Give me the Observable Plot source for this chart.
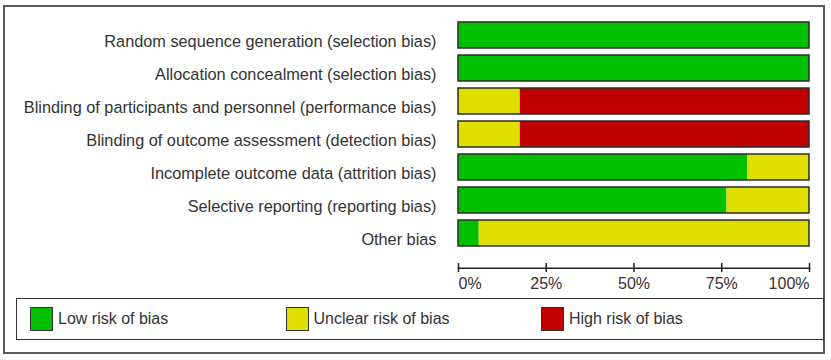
<!DOCTYPE html>
<html>
<head>
<meta charset="utf-8">
<script src="https://cdn.jsdelivr.net/npm/d3@7"></script>
<script src="https://cdn.jsdelivr.net/npm/@observablehq/plot@0.6"></script>
<style>
  html, body { margin: 0; padding: 0; background: #fff; }
  body { width: 831px; height: 360px; position: relative; overflow: hidden;
         font-family: "Liberation Sans", Arial, sans-serif; color: #333; }
  #outer { position: absolute; left: 3px; top: 5px; width: 818px; height: 345px;
           border: 2px solid #5a5a5a; box-sizing: content-box; }
  #chart { position: absolute; left: 0; top: 0; }
  #legend { position: absolute; left: 16px; top: 298px; width: 793px; height: 40px;
            border: 1.5px solid #333; display: flex; align-items: center; padding-left: 13px;
            box-sizing: content-box; }
  .item { width: 255.5px; display: flex; align-items: center; font-size: 16px; }
  .sw { width: 21px; height: 22px; border: 1px solid #333; margin-right: 5px; }
</style>
</head>
<body>
<div id="outer"></div>
<div id="chart"></div>
<div id="legend"></div>
<script>
// Domains (rows, top to bottom)
const domains = [
  "Random sequence generation (selection bias)",
  "Allocation concealment (selection bias)",
  "Blinding of participants and personnel (performance bias)",
  "Blinding of outcome assessment (detection bias)",
  "Incomplete outcome data (attrition bias)",
  "Selective reporting (reporting bias)",
  "Other bias"
];
// Percent of studies per judgement
const lowRisk     = [100, 100, 0,    0,    82.4, 76.5, 5.9];
const unclearRisk = [0,   0,   17.6, 17.6, 17.6, 23.5, 94.1];
const highRisk    = [0,   0,   82.4, 82.4, 0,    0,    0];

const riskLabels = ["Low risk of bias", "Unclear risk of bias", "High risk of bias"];
const riskColors = ["#00c000", "#e0e000", "#c00000"];

const tickValues = [0, 25, 50, 75, 100];
const tickLabels = ["0%", "25%", "50%", "75%", "100%"];

const series = [lowRisk, unclearRisk, highRisk];
const rows = [];
domains.forEach((d, i) => {
  series.forEach((s, k) => rows.push({domain: d, risk: riskLabels[k], value: s[i]}));
});

const n = tickValues.length;
const tickText = d => tickLabels[tickValues.indexOf(d)];
const chart = Plot.plot({
  width: 831,
  height: 295,
  marginLeft: 458,
  marginRight: 22,
  marginTop: 0,
  marginBottom: 32,
  style: {fontFamily: "'Liberation Sans', Arial, sans-serif", fontSize: "16px", color: "#333", background: "transparent"},
  x: {domain: [0, 100], axis: null, label: null},
  y: {domain: domains, range: [16.6, 252.6], paddingInner: 0.2, paddingOuter: 0.1, axis: null, label: null},
  color: {domain: riskLabels, range: riskColors},
  marks: [
    Plot.barX(rows, Plot.stackX({x: "value", y: "domain", fill: "risk", order: riskLabels})),
    Plot.barX(domains, {x1: 0, x2: 100, y: d => d, fill: "none", stroke: "#2b2b2b", strokeWidth: 1.5}),
    Plot.axisY({tickSize: 0, tickPadding: 22, fontSize: 16.3, dy: 6, fill: "#333", label: null}),
    Plot.axisX({ticks: tickValues, tickSize: 9, tickFormat: () => "", stroke: "#222", strokeWidth: 1.5, label: null}),
    Plot.frame({anchor: "bottom", dy: 4.7, stroke: "#222", strokeWidth: 1.5}),
    Plot.text(tickValues.filter((d, i) => i === 0), {x: d => d, text: tickText, frameAnchor: "bottom", lineAnchor: "top", dy: 14, textAnchor: "start", fontSize: 16, fill: "#333"}),
    Plot.text(tickValues.filter((d, i) => i > 0 && i < n - 1), {x: d => d, text: tickText, frameAnchor: "bottom", lineAnchor: "top", dy: 14, textAnchor: "middle", fontSize: 16, fill: "#333"}),
    Plot.text(tickValues.filter((d, i) => i === n - 1), {x: d => d, text: tickText, frameAnchor: "bottom", lineAnchor: "top", dy: 14, textAnchor: "end", fontSize: 16, fill: "#333"})
  ]
});
document.getElementById("chart").appendChild(chart);

const legend = document.getElementById("legend");
riskLabels.forEach((lab, i) => {
  const item = document.createElement("div");
  item.className = "item";
  const sw = document.createElement("div");
  sw.className = "sw";
  sw.style.background = riskColors[i];
  const t = document.createElement("span");
  t.textContent = lab;
  item.appendChild(sw);
  item.appendChild(t);
  legend.appendChild(item);
});
</script>
</body>
</html>
